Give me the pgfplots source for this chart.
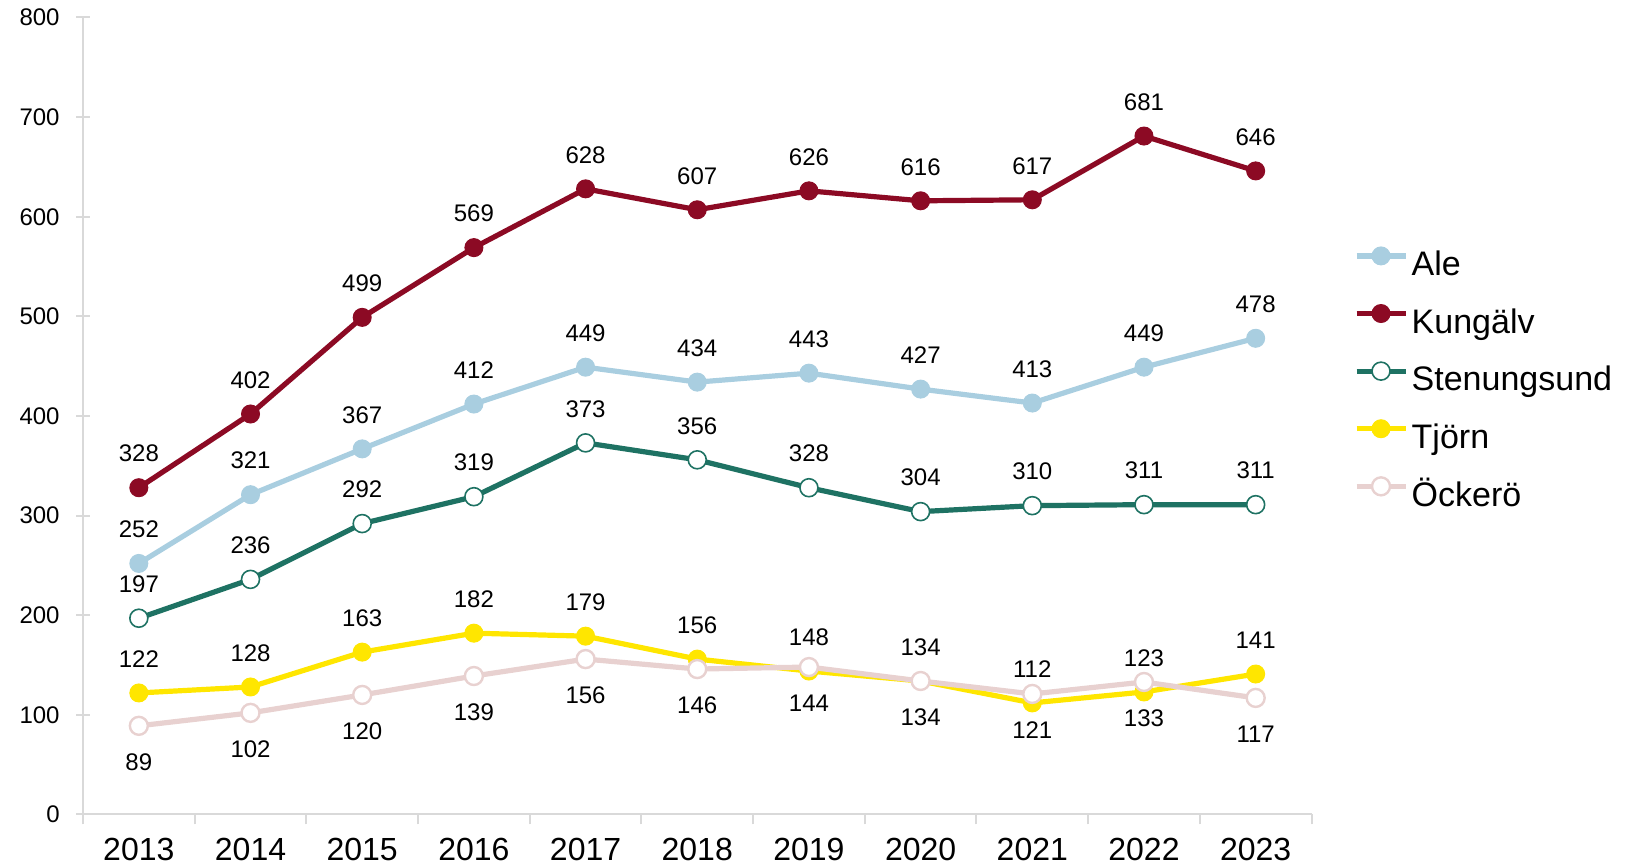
\documentclass[border=0pt]{standalone}
\usepackage{fontspec}
\setmainfont{Liberation Sans}
\usepackage{pgfplots}
\pgfplotsset{compat=1.18}
\definecolor{cAle}{HTML}{A9CEE0}
\definecolor{cKun}{HTML}{8C0A24}
\definecolor{cSte}{HTML}{1E7263}
\definecolor{cTjo}{HTML}{FFE600}
\definecolor{cOck}{HTML}{E8D1D0}
\definecolor{axgrey}{HTML}{D9D9D9}
\begin{document}
\begin{tikzpicture}
\useasboundingbox (0,0) rectangle (813.5pt,433pt);
\begin{axis}[
  at={(41.5pt,25.75pt)}, anchor=south west,
  width=614.25pt, height=398.5pt, scale only axis,
  xmin=2012.5, xmax=2023.5, ymin=0, ymax=800,
  axis x line*=bottom, axis y line*=left,
  axis line style={draw=axgrey, line width=1pt, -},
  xtick={2013,2014,2015,2016,2017,2018,2019,2020,2021,2022,2023},
  xticklabels={2013,2014,2015,2016,2017,2018,2019,2020,2021,2022,2023},
  minor xtick={2012.5,2013.5,2014.5,2015.5,2016.5,2017.5,2018.5,2019.5,2020.5,2021.5,2022.5,2023.5},
  ytick={0,100,200,300,400,500,600,700,800},
  yticklabels={0,100,200,300,400,500,600,700,800},
  tick align=center, major tick length=7pt, minor tick length=5pt,
  every major x tick/.append style={draw=none},
  every minor x tick/.append style={yshift=-2.5pt, draw=axgrey, line width=1pt},
  every major y tick/.append style={draw=axgrey, line width=1pt},
  xticklabel style={font=\fontsize{16}{18}\selectfont, anchor=north, inner sep=0pt, yshift=-8.2pt},
  yticklabel style={font=\fontsize{12}{14}\selectfont, anchor=east, inner sep=0pt, xshift=-8pt},
  clip=false,
  point meta=explicit symbolic,
  legend style={at={(1,0.5445)}, anchor=west, xshift=21pt, draw=none, fill=none, inner sep=0pt,
    font=\fontsize{17}{19}\selectfont, row sep=10.4pt,
    nodes={inner sep=0pt, text height=12pt, text depth=4pt},
    /tikz/every odd column/.append style={column sep=1.8pt}},
  legend cell align=left,
  legend image code/.code={\draw[mark repeat=2, mark phase=2, #1] plot coordinates {(0pt,5.9pt) (12.25pt,5.9pt) (24.5pt,5.9pt)};},
]
\addplot[cAle, line width=2.6pt, mark=*, mark size=4.5pt, mark options={fill=cAle, draw=cAle, line width=0.5pt},
  nodes near coords, every node near coord/.append style={font=\fontsize{12}{14}\selectfont, text=black, anchor=center, yshift=17pt}]
  coordinates {(2013,252)[252] (2014,321)[321] (2015,367)[367] (2016,412)[412] (2017,449)[449] (2018,434)[434] (2019,443)[443] (2020,427)[427] (2021,413)[413] (2022,449)[449] (2023,478)[478]};
\addlegendentry{Ale}
\addplot[cKun, line width=2.6pt, mark=*, mark size=4.5pt, mark options={fill=cKun, draw=cKun, line width=0.5pt},
  nodes near coords, every node near coord/.append style={font=\fontsize{12}{14}\selectfont, text=black, anchor=center, yshift=17pt}]
  coordinates {(2013,328)[328] (2014,402)[402] (2015,499)[499] (2016,569)[569] (2017,628)[628] (2018,607)[607] (2019,626)[626] (2020,616)[616] (2021,617)[617] (2022,681)[681] (2023,646)[646]};
\addlegendentry{Kungälv}
\addplot[cSte, line width=2.6pt, mark=*, mark size=4.5pt, mark options={fill=white, draw=cSte, line width=0.8pt},
  nodes near coords, every node near coord/.append style={font=\fontsize{12}{14}\selectfont, text=black, anchor=center, yshift=17pt}]
  coordinates {(2013,197)[197] (2014,236)[236] (2015,292)[292] (2016,319)[319] (2017,373)[373] (2018,356)[356] (2019,328)[328] (2020,304)[304] (2021,310)[310] (2022,311)[311] (2023,311)[311]};
\addlegendentry{Stenungsund}
\addplot[cTjo, line width=2.6pt, mark=*, mark size=4.5pt, mark options={fill=cTjo, draw=cTjo, line width=0.5pt},
  nodes near coords, every node near coord/.append style={font=\fontsize{12}{14}\selectfont, text=black, anchor=center, yshift=17pt}]
  coordinates {(2013,122)[122] (2014,128)[128] (2015,163)[163] (2016,182)[182] (2017,179)[179] (2018,156)[156] (2019,144)[148] (2020,134)[134] (2021,112)[112] (2022,123)[123] (2023,141)[141]};
\addlegendentry{Tjörn}
\addplot[cOck, line width=2.6pt, mark=*, mark size=4.5pt, mark options={fill=white, draw=cOck, line width=1.2pt},
  nodes near coords, every node near coord/.append style={font=\fontsize{12}{14}\selectfont, text=black, anchor=center, yshift=-18pt}]
  coordinates {(2013,89)[89] (2014,102)[102] (2015,120)[120] (2016,139)[139] (2017,156)[156] (2018,146)[146] (2019,148)[144] (2020,134)[134] (2021,121)[121] (2022,133)[133] (2023,117)[117]};
\addlegendentry{Öckerö}
\end{axis}
\end{tikzpicture}
\end{document}
